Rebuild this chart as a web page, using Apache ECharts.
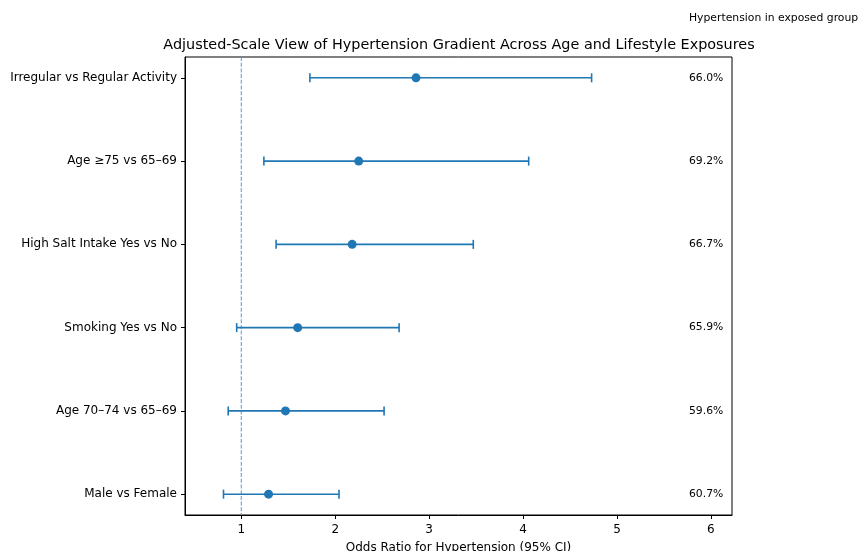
<!DOCTYPE html>
<html><head><meta charset="utf-8">
<script src="https://cdn.jsdelivr.net/npm/echarts@6/dist/echarts.min.js"></script>
<style>html,body{margin:0;padding:0;background:#fff}#c{width:858px;height:551px}</style>
</head><body><div id="c"></div>
<script>
const categories = ["Irregular vs Regular Activity","Age \u226575 vs 65\u201369","High Salt Intake Yes vs No","Smoking Yes vs No","Age 70\u201374 vs 65\u201369","Male vs Female"];
const oddsRatio = [2.86, 2.25, 2.18, 1.60, 1.47, 1.29];
const ciLow = [1.73, 1.24, 1.37, 0.95, 0.86, 0.81];
const ciHigh = [4.73, 4.06, 3.47, 2.68, 2.52, 2.04];
const pctExposed = ["66.0%","69.2%","66.7%","65.9%","59.6%","60.7%"];
const xTicks = [1,2,3,4,5,6];
const refValue = 1;

const blue = '#1f77b4';
const font = 'DejaVu Sans';
const textX = 5.767;

const chart = echarts.init(document.getElementById('c'), null, {renderer:'canvas'});
const idx = categories.map((_, i) => i);
chart.setOption({
  animation:false,
  textStyle:{fontFamily:font},
  title:{text:'Adjusted-Scale View of Hypertension Gradient Across Age and Lifestyle Exposures',
    left:454, textAlign:'center', top:33, padding:5,
    textStyle:{fontFamily:font, fontSize:14.4, fontWeight:'normal', color:'#000'}},
  graphic:[{type:'text', left:689, top:13, style:{text:'Hypertension in exposed group', fontFamily:font, fontSize:10.8, fill:'#000'}}],
  grid:{left:185, right:126, top:57, bottom:36, show:true, borderColor:'#000', borderWidth:1,
    backgroundColor:'transparent', outerBoundsMode:'none', containLabel:false},
  xAxis:{type:'value', min:0.4, max:6.225,
    name:'Odds Ratio for Hypertension (95% CI)', nameLocation:'middle', nameGap:27,
    nameTextStyle:{fontFamily:font, fontSize:12, color:'#000'},
    splitLine:{show:false},
    axisLine:{show:true, onZero:false, lineStyle:{color:'#000', width:1}},
    axisTick:{show:true, length:4, customValues:xTicks, lineStyle:{color:'#000'}},
    axisLabel:{customValues:xTicks, fontFamily:font, fontSize:12, color:'#000', margin:9}},
  yAxis:{type:'value', min:-0.25, max:5.25, inverse:true,
    splitLine:{show:false},
    axisLine:{show:true, onZero:false, lineStyle:{color:'#000', width:1}},
    axisTick:{show:true, length:4, customValues:idx, lineStyle:{color:'#000'}},
    axisLabel:{customValues:idx, fontFamily:font, fontSize:12, color:'#000', margin:8,
      formatter:v => categories[Math.round(v)] || ''}},
  series:[
    {type:'line', data:[[refValue,-0.25],[refValue,5.25]], symbol:'none', silent:true,
      lineStyle:{color:'#5a9fd4', width:1.3, type:[4,1.7], opacity:0.8}, z:1},
    {type:'custom', z:2, data: idx.map(i => [ciLow[i], ciHigh[i], i]),
      renderItem:(params, api) => {
        const lo = api.coord([api.value(0), api.value(2)]);
        const hi = api.coord([api.value(1), api.value(2)]);
        const h = 4.5;
        const st = {stroke:blue, lineWidth:1.6};
        return {type:'group', children:[
          {type:'line', shape:{x1:lo[0], y1:lo[1], x2:hi[0], y2:hi[1]}, style:st},
          {type:'line', shape:{x1:lo[0], y1:lo[1]-h, x2:lo[0], y2:lo[1]+h}, style:st},
          {type:'line', shape:{x1:hi[0], y1:hi[1]-h, x2:hi[0], y2:hi[1]+h}, style:st}
        ]};
      }},
    {type:'scatter', z:3, data: idx.map(i => [oddsRatio[i], i]), symbol:'circle', symbolSize:9,
      itemStyle:{color:blue, opacity:1}},
    {type:'custom', z:3, data: idx.map(i => [textX, i]),
      renderItem:(params, api) => {
        const p = api.coord([api.value(0), api.value(1)]);
        return {type:'text', x:p[0], y:p[1], style:{text:pctExposed[params.dataIndex],
          fontFamily:font, fontSize:10.8, fill:'#000', align:'left', verticalAlign:'middle'}};
      }}
  ]
});
</script></body></html>
